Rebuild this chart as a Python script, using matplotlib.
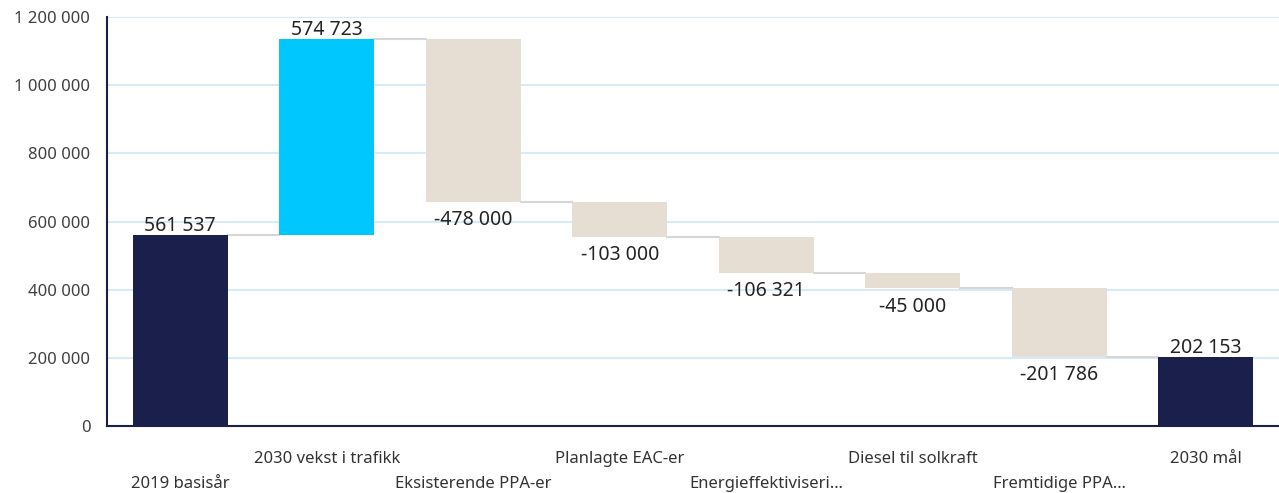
import matplotlib.pyplot as plt
import numpy as np

plt.rcParams['font.family'] = ['Noto Sans', 'DejaVu Sans']

categories = ['2019 basisår', '2030 vekst i trafikk', 'Eksisterende PPA-er',
              'Planlagte EAC-er', 'Energieffektiviseri…', 'Diesel til solkraft',
              'Fremtidige PPA…', '2030 mål']
# first and last are totals, the rest are changes
changes = [561537, 574723, -478000, -103000, -106321, -45000, -201786, 202153]
kinds = ['total', 'up', 'down', 'down', 'down', 'down', 'down', 'total']
yticks = [0, 200000, 400000, 600000, 800000, 1000000, 1200000]

colors = {'total': '#1b1f4b', 'up': '#00c8ff', 'down': '#e6ddd3'}


def fmt(v):
    return '{:,}'.format(int(v)).replace(',', ' ')


fig = plt.figure(figsize=(12.79, 4.93), dpi=100)
ax = fig.add_axes([107 / 1279, 1 - 426 / 493, 1 - 107 / 1279, (426 - 17) / 493])

x = np.arange(len(categories))
width = 0.65
running = 0
tops = []
for i, (v, k) in enumerate(zip(changes, kinds)):
    if k == 'total':
        bottom, height = 0, v
        running = v
    else:
        bottom, height = running, v
        running = running + v
    ax.bar(i, height, width, bottom=bottom, color=colors[k], zorder=3)
    tops.append(running)
    if v >= 0:
        ax.annotate(fmt(v), (i, bottom + height), xytext=(0, -1), textcoords='offset points',
                    ha='center', va='bottom', fontsize=14, color='#252423')
    else:
        ax.annotate(fmt(v), (i, bottom + height), xytext=(0, -6), textcoords='offset points',
                    ha='center', va='top', fontsize=14, color='#252423')

# connectors between bars
for i in range(len(categories) - 1):
    ax.plot([i + width / 2, i + 1 - width / 2], [tops[i], tops[i]],
            color='#d6d6d6', lw=1.5, zorder=2)

ax.set_xlim(-0.5, 7.5)
ax.set_ylim(0, 1200000)
ax.set_yticks(yticks)
ax.set_yticklabels([fmt(t) for t in yticks], fontsize=12, color='#404040')
ax.tick_params(axis='y', length=0, pad=12)
ax.set_xticks([])
ax.grid(axis='y', color='#cce8f8', lw=1.2, zorder=0)

for s in ['top', 'right']:
    ax.spines[s].set_visible(False)
ax.spines['left'].set_color('#1b1f4b')
ax.spines['bottom'].set_color('#1b1f4b')
ax.spines['left'].set_linewidth(1.5)
ax.spines['bottom'].set_linewidth(1.5)

# staggered category labels
for i, c in enumerate(categories):
    off = -33 if i % 2 == 1 else -58
    ax.annotate(c, (i, 0), xycoords=('data', 'axes fraction'), xytext=(0, off),
                textcoords='offset pixels', ha='center', va='center',
                fontsize=12, color='#333333', annotation_clip=False)

fig.savefig('out.png', dpi=100)
